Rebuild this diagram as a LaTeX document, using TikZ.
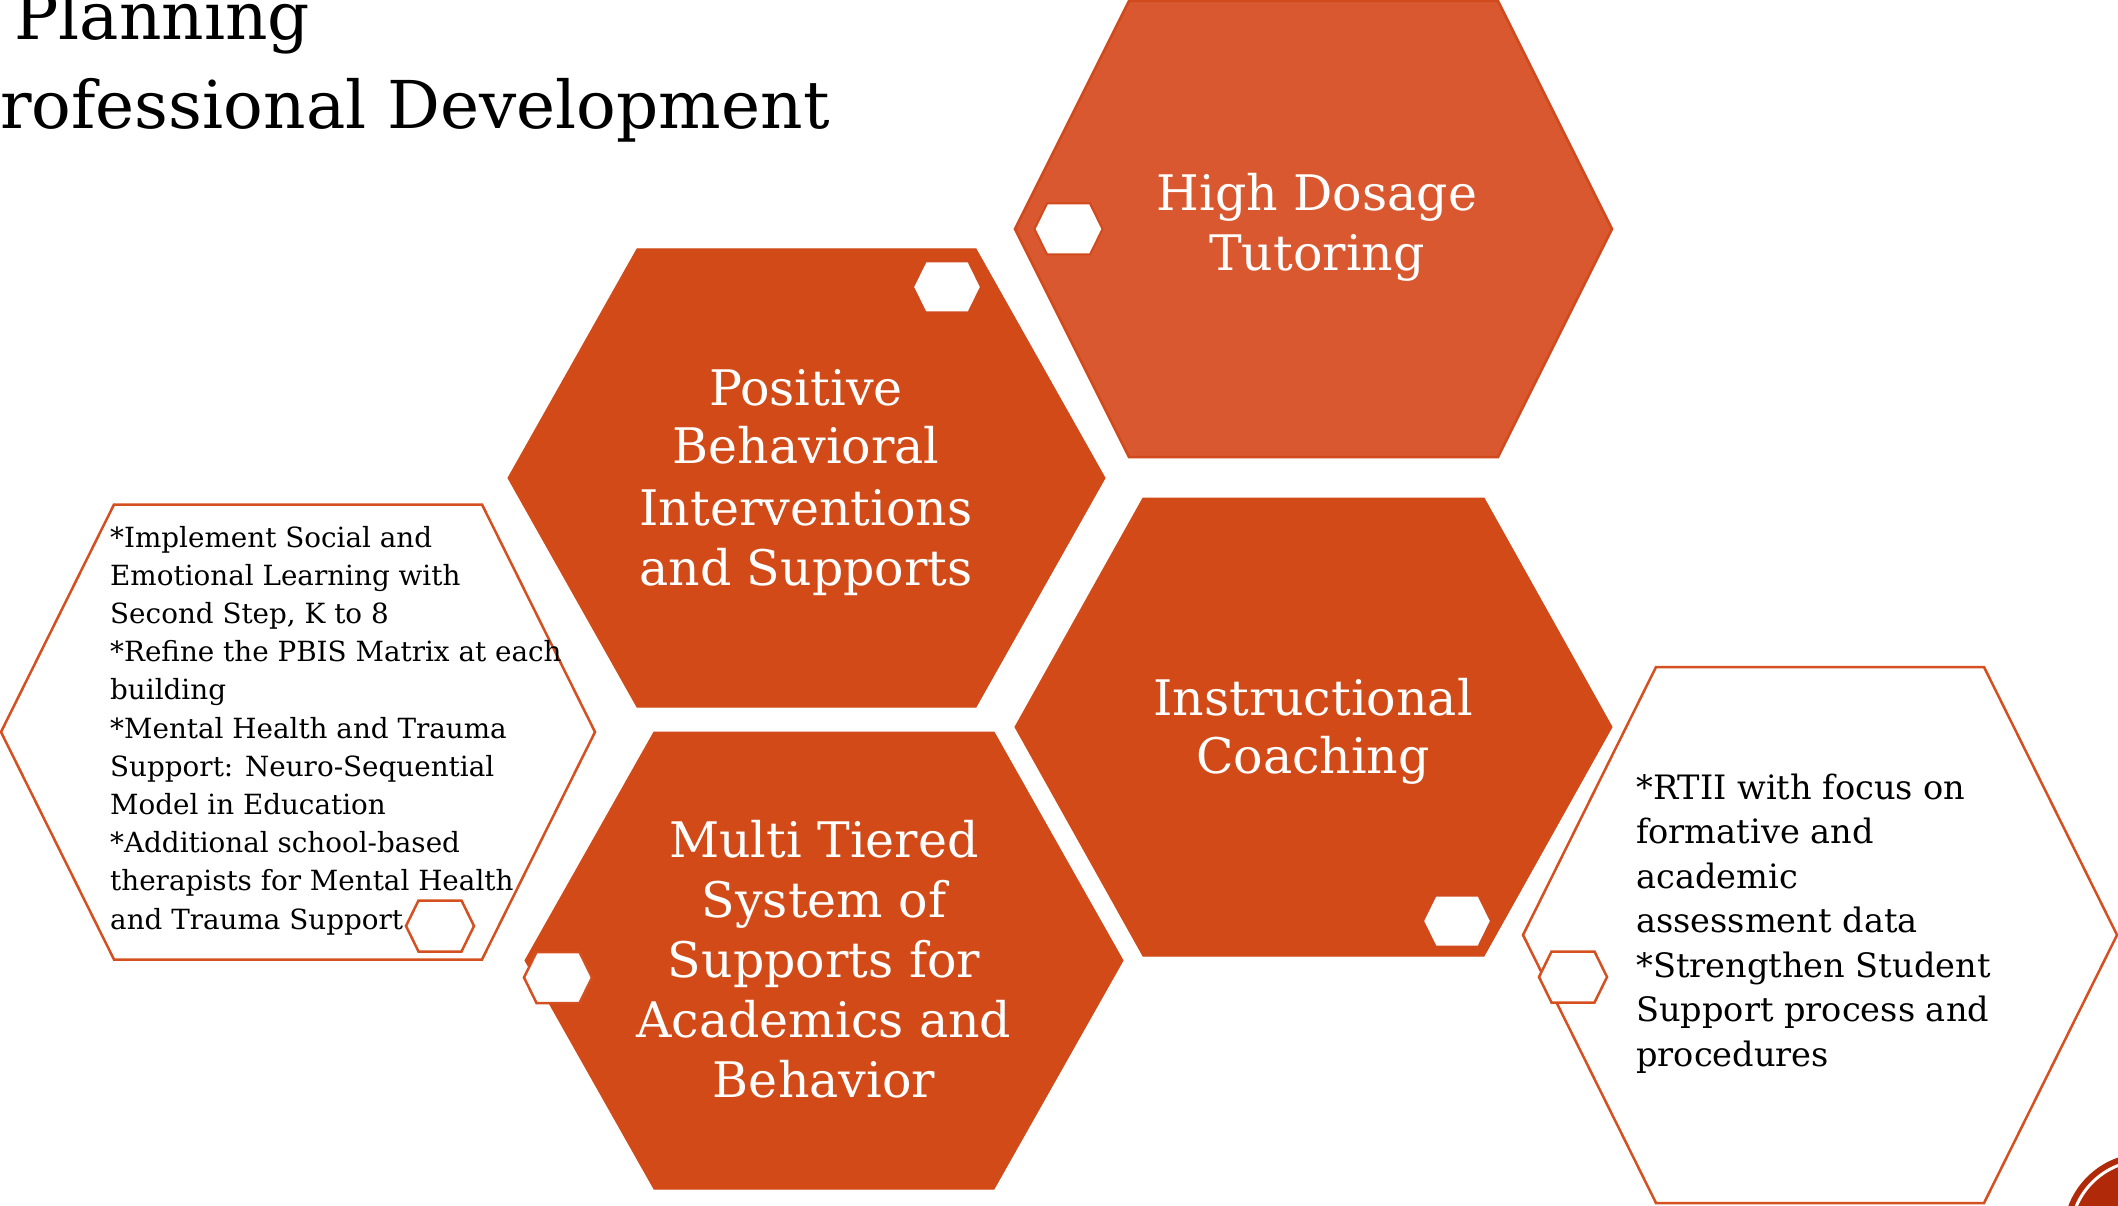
\documentclass[tikz,border=0pt]{standalone}
\usepackage{fontspec}
\newfontfamily\rw{DejaVu Serif}
\definecolor{hexfill}{RGB}{209,74,24}
\definecolor{hexlight}{RGB}{217,88,47}
\definecolor{hexline}{RGB}{208,74,30}
\definecolor{outl}{RGB}{213,80,32}
\definecolor{dotred}{RGB}{176,42,10}
% #1 style, #2 cx, #3 cy, #4 half width, #5 inset, #6 half height
\newcommand\hexshape[6]{%
  \path[#1] (#2-#4,#3) -- (#2-#4+#5,#3-#6) -- (#2+#4-#5,#3-#6) -- (#2+#4,#3)
    -- (#2+#4-#5,#3+#6) -- (#2-#4+#5,#3+#6) -- cycle;}
\newcommand\smallhex[3]{\hexshape{#1}{#2}{#3}{34}{12.5}{25.5}}
\tikzset{
  bigfill/.style={fill=hexfill,draw=hexfill,line width=1pt},
  lightfill/.style={fill=hexlight,draw=hexline,line width=2.5pt},
  outlinehex/.style={fill=white,draw=outl,line width=2.5pt},
  smallwhite/.style={fill=white,draw=hexline,line width=2pt},
  smallout/.style={fill=white,draw=outl,line width=2.5pt},
  headtext/.style={text=white,font=\rw\fontsize{49}{60}\selectfont,inner sep=0pt,anchor=base},
  bodytext/.style={text=black,inner sep=0pt,anchor=base west},
  titletext/.style={text=black,inner sep=0pt,anchor=base west,font=\rw\fontsize{66}{90}\selectfont}
}
\begin{document}
\begin{tikzpicture}[x=1pt,y=-1pt]
\useasboundingbox (0,0) rectangle (2118,1206);
\begin{scope}
\clip (0,0) rectangle (2118,1206);
\fill[white] (0,0) rectangle (2118,1206);
% title
\node[titletext] (title1) at (14,40) {Planning};
\node[titletext] (title2) at (0,129) {rofessional Development};
% outline hexagons
\hexshape{outlinehex}{298}{732}{297}{113}{227.5}
\hexshape{outlinehex}{1820}{935}{297}{133}{268}
% filled hexagons
\hexshape{lightfill}{1313.5}{229}{298.5}{114}{228}
\hexshape{bigfill}{806.5}{478}{298.5}{129}{229}
\hexshape{bigfill}{1313.5}{727}{298.5}{128}{229}
\hexshape{bigfill}{824}{960.5}{299}{129}{228.5}
% texts
\node[headtext] (hdt) at (1317,211) {\parbox[t]{560pt}{\centering High Dosage\\Tutoring}};
\node[headtext] (pbis) at (806,405) {\parbox[t]{560pt}{\centering Positive\\[-2pt]Behavioral\\[2pt]Interventions\\and Supports}};
\node[headtext] (ic) at (1313,715) {\parbox[t]{560pt}{\centering Instructional\\[-2pt]Coaching}};
\node[headtext] (mtss) at (824,857) {\parbox[t]{560pt}{\centering Multi Tiered\\System of\\Supports for\\Academics and\\Behavior}};
\node[bodytext,font=\rw\fontsize{27.8}{38.2}\selectfont] (lefttext) at (110,547) {\parbox[t]{560pt}{\raggedright
*Implement Social and\\
Emotional Learning with\\
Second Step, K to 8\\{}%
*Refine the PBIS Matrix at each\\
building\\{}%
*Mental Health and Trauma\\
Support: Neuro-Sequential\\
Model in Education\\{}%
*Additional school-based\\
therapists for Mental Health\\
and Trauma Support}};
\node[bodytext,font=\rw\fontsize{33.6}{44.5}\selectfont] (righttext) at (1636,799) {\parbox[t]{560pt}{\raggedright
*RTII with focus on\\
formative and\\
academic\\
assessment data\\{}%
*Strengthen Student\\
Support process and\\
procedures}};
% small hexagons
\smallhex{smallwhite}{1068.5}{229}
\smallhex{smallwhite}{947}{287}
\smallhex{smallwhite}{1457}{921}
\smallhex{smallout}{558}{977.5}
\smallhex{smallout}{440}{926}
\smallhex{smallout}{1573}{977}
% corner badge
\fill[dotred] (2145,1235) circle (82pt);
\draw[white,line width=3pt] (2145,1235) circle (74.5pt);
\end{scope}
\end{tikzpicture}
\end{document}
